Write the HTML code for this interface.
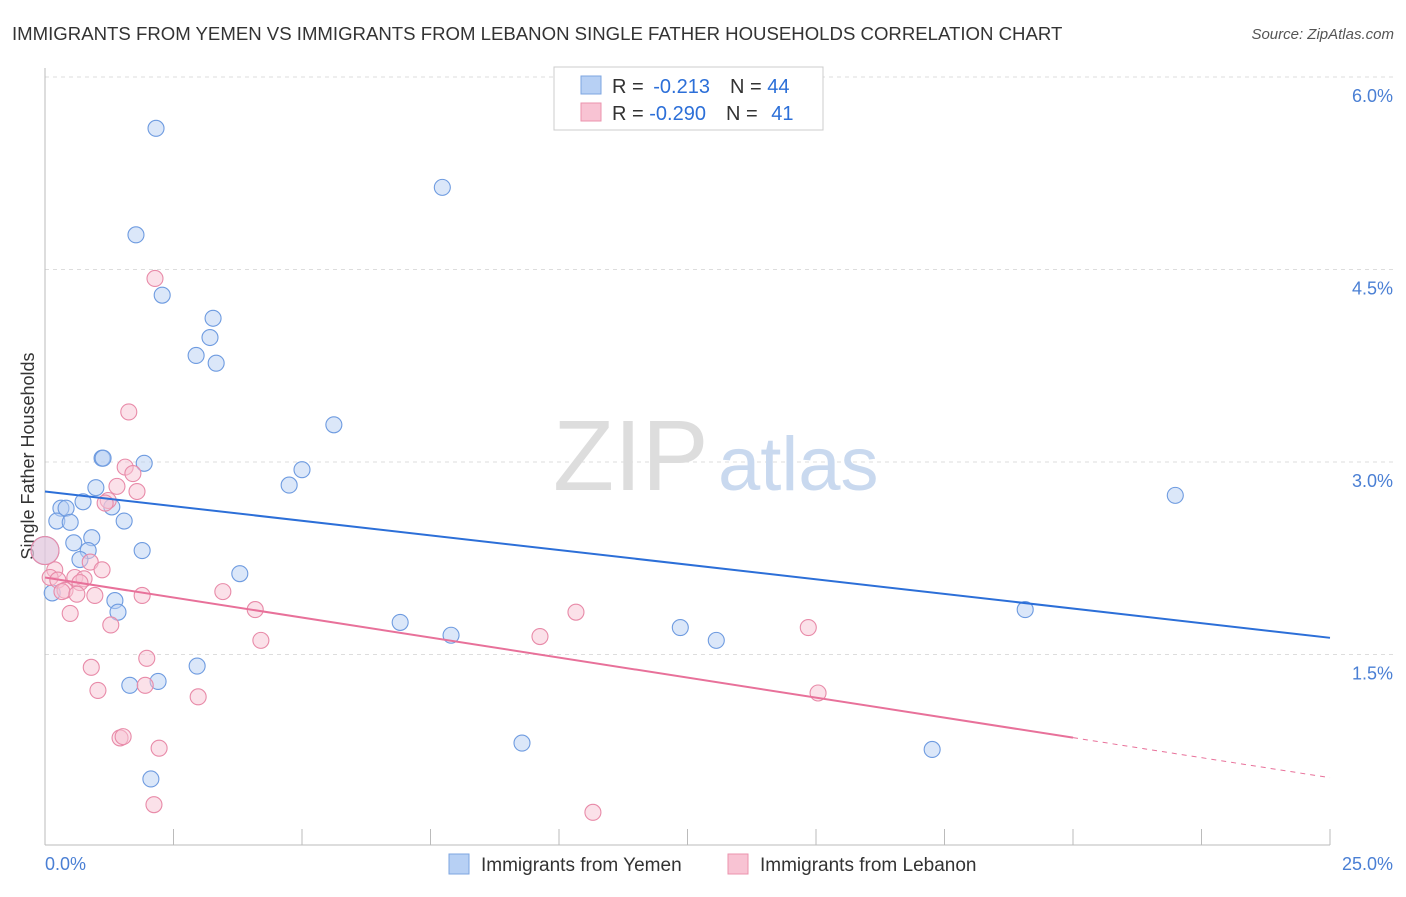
<!DOCTYPE html>
<html><head><meta charset="utf-8"><style>
body{margin:0;background:#fff;font-family:"Liberation Sans",sans-serif}
svg text{font-family:"Liberation Sans",sans-serif}
</style></head><body>
<svg width="1406" height="892">
<text x="12" y="40" font-size="18.6" fill="#333">IMMIGRANTS FROM YEMEN VS IMMIGRANTS FROM LEBANON SINGLE FATHER HOUSEHOLDS CORRELATION CHART</text>
<text x="1394" y="39" font-size="15" fill="#555" font-style="italic" text-anchor="end">Source: ZipAtlas.com</text>
<g id="grid"></g>
<text x="553" y="490" font-size="100" fill="#ddd" font-family="Liberation Serif">ZIP</text>
<text x="718" y="490" font-size="76" fill="#c9d9ef">atlas</text>
<line x1="45" y1="68" x2="45" y2="845" stroke="#bbb"/>
<line x1="45" y1="845" x2="1330" y2="845" stroke="#bbb"/>
<g id="ticks"></g>
<text x="45" y="870" font-size="18" fill="#4a7fd4">0.0%</text>
<text x="1393" y="870" font-size="18" fill="#4a7fd4" text-anchor="end">25.0%</text>
<text transform="translate(34,456) rotate(-90)" font-size="18" fill="#333" text-anchor="middle">Single Father Households</text>
<g id="pts"></g>
<g id="trend"></g>
<g>
<rect x="554" y="67" width="269" height="63" fill="#fff" stroke="#ccc"/>
<rect x="581" y="76" width="20" height="18" fill="#b7d0f4" stroke="#7ea6e0"/>
<rect x="581" y="103" width="20" height="18" fill="#f8c3d3" stroke="#eb93ae"/>
<text x="612" y="93" font-size="20" fill="#333">R = <tspan fill="#2c6fd8" dx="4">-0.213</tspan><tspan dx="20">N = </tspan><tspan fill="#2c6fd8">44</tspan></text>
<text x="612" y="120" font-size="20" fill="#333">R = <tspan fill="#2c6fd8">-0.290</tspan><tspan dx="20">N = </tspan><tspan fill="#2c6fd8" dx="8">41</tspan></text>
</g>
<g>
<rect x="449" y="854" width="20" height="20" fill="#b7d0f4" stroke="#7ea6e0"/>
<text x="481" y="871" font-size="19" fill="#333">Immigrants from Yemen</text>
<rect x="728" y="854" width="20" height="20" fill="#f8c3d3" stroke="#eb93ae"/>
<text x="760" y="871" font-size="19" fill="#333">Immigrants from Lebanon</text>
</g>
</svg>
<script>
const yTicks=[1.5,3.0,4.5,6.0];
const xTicks=[0,2.5,5,7.5,10,12.5,15,17.5,20,22.5,25];
const yemenX=[2.16,7.73,1.77,2.28,3.27,3.21,2.94,3.33,5.62,1.11,1.13,1.93,5.00,4.75,0.99,0.74,1.30,0.31,0.41,0.23,0.49,1.54,0.91,0.56,0.84,1.89,0.0,0.68,3.79,0.14,1.36,1.42,6.91,7.90,12.36,13.06,19.07,21.99,2.96,2.20,1.65,9.28,17.26,2.06];
const yemenY=[5.60,5.14,4.77,4.30,4.12,3.97,3.83,3.77,3.29,3.03,3.03,2.99,2.94,2.82,2.80,2.69,2.65,2.64,2.64,2.54,2.53,2.54,2.41,2.37,2.31,2.31,2.31,2.24,2.13,1.98,1.92,1.83,1.75,1.65,1.71,1.61,1.85,2.74,1.41,1.29,1.26,0.81,0.76,0.53];
const lebX=[2.14,1.63,1.56,1.71,1.79,1.40,1.23,1.17,0.88,1.11,0.19,0.10,0.25,0.58,0.76,0.68,0.39,0.33,0.97,0.62,1.89,3.46,4.09,10.33,9.63,14.85,4.20,1.28,0.49,1.98,0.90,1.03,1.95,2.98,15.04,1.46,1.52,2.22,2.12,10.66,0];
const lebY=[4.43,3.39,2.96,2.91,2.77,2.81,2.70,2.68,2.22,2.16,2.16,2.10,2.08,2.10,2.09,2.06,2.00,1.99,1.96,1.97,1.96,1.99,1.85,1.83,1.64,1.71,1.61,1.73,1.82,1.47,1.40,1.22,1.26,1.17,1.20,0.85,0.86,0.77,0.33,0.27,2.31];
const yemenTrend=[2.77,1.63];
const lebTrend=[2.10,0.54];
const lebSolidEnd=20;
const NS='http://www.w3.org/2000/svg';
const X=v=>45+v/25*1285, Y=v=>847-v/1.5*192.5;
function mk(t,a,p){const e=document.createElementNS(NS,t);for(const k in a)e.setAttribute(k,a[k]);document.getElementById(p).appendChild(e);return e;}
yTicks.forEach(v=>{
 const l=mk('line',{x1:45,x2:1394,y1:Y(v),y2:Y(v),stroke:'#ddd','stroke-dasharray':'4,4'},'grid');
 
 
 const t=mk('text',{x:1393,y:Y(v)+25,'font-size':18,fill:'#4a7fd4','text-anchor':'end'},'grid');
 t.textContent=v.toFixed(1)+'%';
 
 
});
xTicks.forEach(v=>{
 const l=mk('line',{x1:X(v),x2:X(v),y1:829,y2:845,stroke:'#bbb'},'ticks');
 
 
});
function pts(xs,ys,fill,stroke,nm){xs.forEach((x,i)=>{
 const big=(x===0);
 const c=mk('circle',{cx:X(x),cy:Y(ys[i]),r:big?14:8,fill:fill,'fill-opacity':0.5,stroke:stroke,'stroke-width':1.1},'pts');
 
 
});}
pts(yemenX,yemenY,'#b7d0f4','#6e9be0','yemen-point');
pts(lebX,lebY,'#f8c3d3','#e88aa8','lebanon-point');
const b=mk('line',{x1:X(0),y1:Y(yemenTrend[0]),x2:X(25),y2:Y(yemenTrend[1]),stroke:'#2c6fd8','stroke-width':2},'trend');


const ly=v=>lebTrend[0]+(lebTrend[1]-lebTrend[0])*v/25;
const p1=mk('line',{x1:X(0),y1:Y(ly(0)),x2:X(lebSolidEnd),y2:Y(ly(lebSolidEnd)),stroke:'#e8719a','stroke-width':2},'trend');


const p2=mk('line',{x1:X(lebSolidEnd),y1:Y(ly(lebSolidEnd)),x2:X(25),y2:Y(ly(25)),stroke:'#e8719a','stroke-width':1,'stroke-dasharray':'5,5'},'trend');


</script>
</body></html>
